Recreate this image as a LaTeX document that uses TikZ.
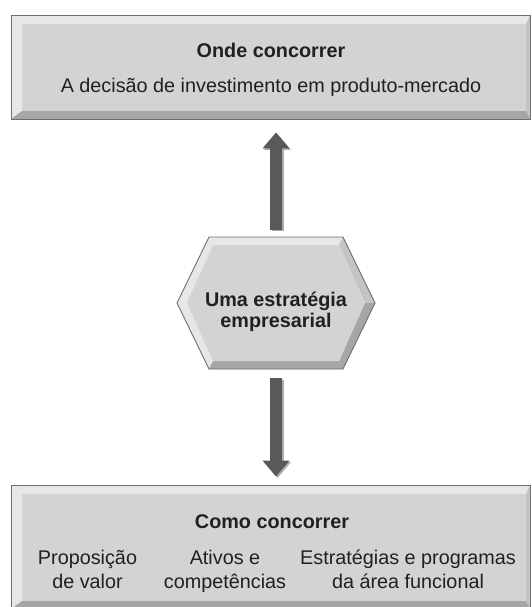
\documentclass[tikz,border=0pt]{standalone}
\usepackage{fontspec}
\setmainfont{Liberation Sans}
\usetikzlibrary{arrows.meta,calc}

\definecolor{facegray}{HTML}{D3D3D3}
\definecolor{bevlight}{HTML}{E7E7E7}
\definecolor{bevmid}{HTML}{C4C4C4}
\definecolor{bevdark}{HTML}{A6A6A6}
\definecolor{edgegray}{HTML}{6E6E6E}
\definecolor{arrowgray}{HTML}{58595B}
\definecolor{shadegray}{HTML}{ABABAB}
\definecolor{inkdark}{HTML}{231F20}

\tikzset{
  headtext/.style={font=\fontsize{19.8pt}{24pt}\selectfont\bfseries, text=inkdark, inner sep=0pt},
  bodytext/.style={font=\fontsize{19.8pt}{24pt}\selectfont, text=inkdark, inner sep=0pt, align=center},
  bevelbox/.style={minimum width=519pt, minimum height=#1, inner sep=0pt,
    draw=edgegray, line width=0.9pt, fill=bevlight,
    path picture={
      \coordinate (pnw) at (path picture bounding box.north west);
      \coordinate (pse) at (path picture bounding box.south east);
      \coordinate (pne) at (pse |- pnw);
      \coordinate (psw) at (pnw |- pse);
      \fill[bevmid] (pne) -- (pse) -- ($(pse)+(-4,-8)$) -- ($(pne)+(-4,9)$) -- cycle;
      \fill[bevdark] (psw) -- (pse) -- ($(pse)+(-4,-8)$) -- ($(psw)+(11,-8)$) -- cycle;
      \fill[facegray] ($(pnw)+(11,9)$) rectangle ($(pse)+(-4,-8)$);
    }},
  hexnode/.style={minimum width=200pt, minimum height=134pt, inner sep=0pt,
    text height=48pt, text depth=0pt,
    font=\fontsize{19.8pt}{21pt}\selectfont\bfseries, text=inkdark, align=center,
    path picture={
      \coordinate (hl) at ($(path picture bounding box.west)+(1,0)$);
      \coordinate (htl) at ($(path picture bounding box.north west)+(33,1)$);
      \coordinate (htr) at ($(path picture bounding box.north east)+(-33,1)$);
      \coordinate (hr) at ($(path picture bounding box.east)+(-1,0)$);
      \coordinate (hbr) at ($(path picture bounding box.south east)+(-33,-1)$);
      \coordinate (hbl) at ($(path picture bounding box.south west)+(33,-1)$);
      \fill[bevlight] (hl) -- (htl) -- (htr) -- (hr) -- (hbr) -- (hbl) -- cycle;
      \fill[bevmid] (htr) -- (hr) -- ($(hr)+(-10,0)$) -- ($(htr)+(-4,8)$) -- cycle;
      \fill[bevdark] (hr) -- (hbr) -- (hbl) -- ($(hbl)+(4,-8)$) -- ($(hbr)+(-4,-8)$) -- ($(hr)+(-10,0)$) -- cycle;
      \fill[facegray] ($(hl)+(10,0)$) -- ($(htl)+(4,8)$) -- ($(htr)+(-4,8)$) -- ($(hr)+(-10,0)$)
        -- ($(hbr)+(-4,-8)$) -- ($(hbl)+(4,-8)$) -- cycle;
      \draw[edgegray, line width=0.9pt] (hl) -- (htl) -- (htr) -- (hr) -- (hbr) -- (hbl) -- cycle;
    }},
  bigarrow/.style={draw=arrowgray, line width=12pt, -{Triangle[width=26pt,length=16pt]}},
  bigshadow/.style={draw=shadegray, line width=12pt, -{Triangle[width=26pt,length=16pt]},
    transform canvas={shift={(1.5pt,-1.5pt)}}}
}

\begin{document}
\begin{tikzpicture}[x=1pt,y=-1pt]
  \useasboundingbox (0,0) rectangle (531,607);

  % boxes
  \node[bevelbox=104pt] (where) at (270.5,67) {};
  \node[bevelbox=124pt] (how) at (270.5,547) {};
  \node[hexnode] (hex) at (276,303) {Uma estratégia\\empresarial};

  % arrows
  \draw[bigshadow, shorten <=6pt, shorten >=13pt] (hex.north) -- (hex.north |- where.south);
  \draw[bigarrow, shorten <=6pt, shorten >=13pt] (hex.north) -- (hex.north |- where.south);
  \draw[bigshadow, shorten <=8pt, shorten >=8pt] (hex.south) -- (hex.south |- how.north);
  \draw[bigarrow, shorten <=8pt, shorten >=8pt] (hex.south) -- (hex.south |- how.north);

  % texts
  \node[headtext, anchor=base] (whereTitle) at (271,58) {Onde concorrer};
  \node[bodytext, anchor=base] (whereBody) at (271,93) {A decisão de investimento em produto-mercado};
  \node[headtext, anchor=base] (howTitle) at (272,528) {Como concorrer};
  \node[bodytext, anchor=base] (valor) at (87.5,588) {Proposição\\de valor};
  \node[bodytext, anchor=base] (ativos) at (225,588) {Ativos e\\competências};
  \node[bodytext, anchor=base] (funcional) at (408,588) {Estratégias e programas\\da área funcional};
\end{tikzpicture}
\end{document}
